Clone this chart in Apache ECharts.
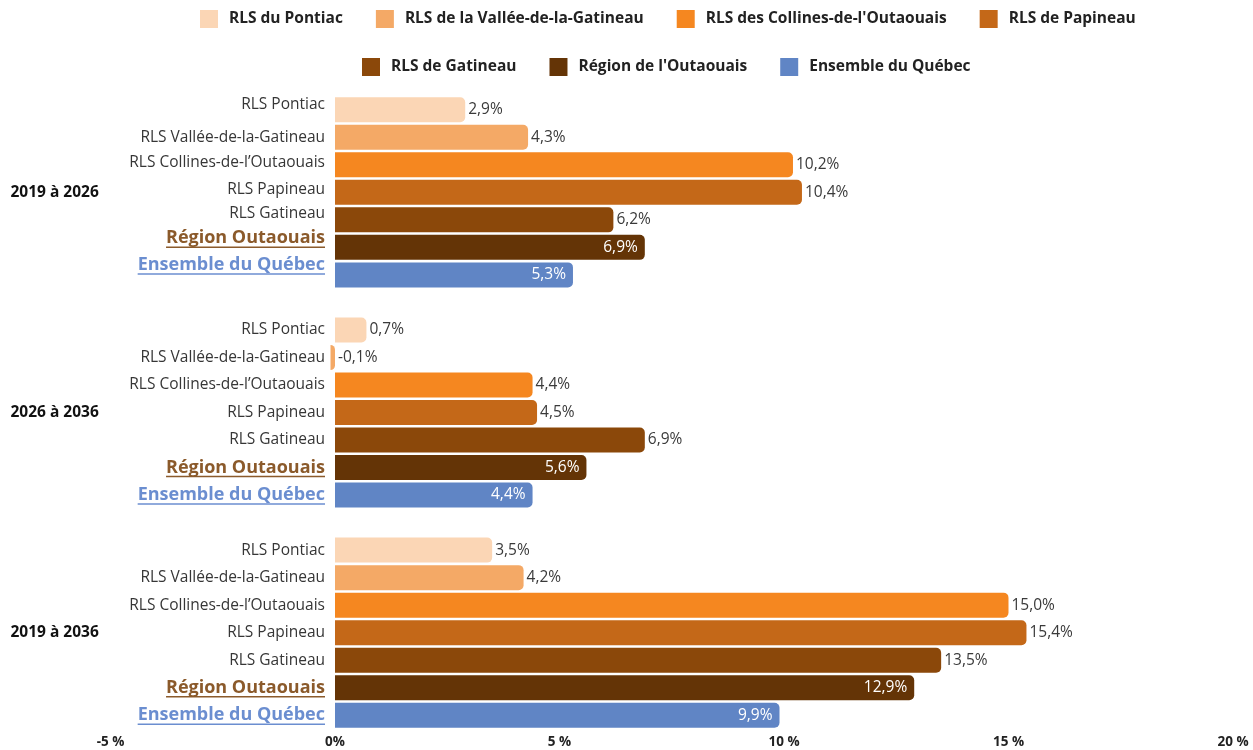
<!DOCTYPE html>
<html><head><meta charset="utf-8">
<script src="https://cdn.jsdelivr.net/npm/echarts@6/dist/echarts.min.js"></script>
<style>html,body{margin:0;padding:0;background:#fff}#c{width:1253px;height:750px}</style>
</head><body><div id="c"></div>
<script>
// ---- data ----
const periods = ['2019 à 2026', '2026 à 2036', '2019 à 2036'];
const rowLabels = ['RLS Pontiac', 'RLS Vallée-de-la-Gatineau', 'RLS Collines-de-l’Outaouais', 'RLS Papineau', 'RLS Gatineau', 'Région Outaouais', 'Ensemble du Québec'];
const seriesNames = ['RLS du Pontiac', 'RLS de la Vallée-de-la-Gatineau', "RLS des Collines-de-l'Outaouais", 'RLS de Papineau', 'RLS de Gatineau', "Région de l'Outaouais", 'Ensemble du Québec'];
const pontiac  = [2.9, 0.7, 3.5];
const vallee   = [4.3, -0.1, 4.2];
const collines = [10.2, 4.4, 15.0];
const papineau = [10.4, 4.5, 15.4];
const gatineau = [6.2, 6.9, 13.5];
const region   = [6.9, 5.6, 12.9];
const quebec   = [5.3, 4.4, 9.9];
const xTickLabels = ['-5 %', '0%', '5 %', '10 %', '15 %', '20 %'];

// ---- styles ----
const colors = ['#fbd6b5', '#f4a966', '#f58720', '#c46818', '#8b480a', '#643406', '#6085c5'];
const labelLiftG1 = [5, 0, 2, 3, 6, 9, 10]; // small upward shift of row labels in first block
const FONT = '"Open Sans", "Noto Sans", sans-serif';
const GRID_LEFT = 110.5, GRID_RIGHT = 20;
const X_MIN = -5, X_MAX = 20;
const BOLD_SIZE = 18;

const allValues = [pontiac, vallee, collines, papineau, gatineau, region, quebec];
const rows = [];
periods.forEach((p, g) => {
  rowLabels.forEach((l, s) => rows.push({g, s}));
  if (g < periods.length - 1) rows.push(null);
});
const fmtPct = v => v.toFixed(1).replace('.', ',') + '%';

const rich = {};
for (let k = 0; k <= 12; k++) {
  rich['n' + k] = {fontSize: 15.5, color: '#363636', fontFamily: FONT, padding: [0, 0, 2 * k, 0]};
  rich['r' + k] = {fontSize: BOLD_SIZE, fontWeight: 'bold', color: '#8b5a2b', fontFamily: FONT, padding: [0, 0, 2 * k, 0]};
  rich['q' + k] = {fontSize: BOLD_SIZE, fontWeight: 'bold', color: '#6b8ed0', fontFamily: FONT, padding: [0, 0, 2 * k, 0]};
}
const liftOf = r => (r && r.g === 0) ? labelLiftG1[r.s] : 0;

const chartWidth = 1253;
const plotW = chartWidth - GRID_LEFT - GRID_RIGHT;
const zeroOffset = plotW * (0 - X_MIN) / (X_MAX - X_MIN); // distance from grid left to value 0
const ROW_LABEL_GAP = 10;

const chart = echarts.init(document.getElementById('c'));
const series = seriesNames.map((name, s) => ({
  type: 'bar', name, stack: 'all', barWidth: 25,
  data: rows.map(r => (r && r.s === s) ? allValues[s][r.g] : '-'),
  itemStyle: {color: colors[s], borderRadius: [0, 5, 5, 0]},
  label: {
    show: true,
    position: s >= 5 ? 'insideRight' : 'right',
    distance: s >= 5 ? 7 : 3,
    color: s >= 5 ? '#ffffff' : '#3a3a3a',
    fontSize: 15.5, fontFamily: FONT,
    formatter: p => fmtPct(p.value)
  }
}));

const legendText = {fontSize: 15.5, fontWeight: 'bold', color: '#222', fontFamily: FONT, padding: [0, 0, 0, 6]};
chart.setOption({
  animation: false,
  textStyle: {fontFamily: FONT},
  legend: [
    {data: seriesNames.slice(0, 4), left: 200, top: 10, itemWidth: 18, itemHeight: 18, itemGap: 33, icon: 'rect', textStyle: legendText, padding: 0},
    {data: seriesNames.slice(4), left: 362, top: 58, itemWidth: 18, itemHeight: 18, itemGap: 33, icon: 'rect', textStyle: legendText, padding: 0}
  ],
  grid: {left: GRID_LEFT, right: GRID_RIGHT, top: 96, bottom: 21, containLabel: false, outerBoundsMode: 'none'},
  xAxis: {
    type: 'value', min: X_MIN, max: X_MAX, interval: 5,
    splitLine: {show: false}, axisLine: {show: false}, axisTick: {show: false},
    axisLabel: {margin: 6, fontSize: 13.5, fontWeight: 'bold', color: '#222', fontFamily: FONT,
      formatter: v => xTickLabels[Math.round((v - X_MIN) / 5)]}
  },
  yAxis: [
    {
      type: 'category', inverse: true, data: rows.map((r, i) => String(i)),
      offset: -zeroOffset,
      axisLine: {show: false, onZero: false}, axisTick: {show: false},
      axisLabel: {
        interval: 0, margin: ROW_LABEL_GAP, rich,
        formatter: (v, i) => {
          const r = rows[i];
          if (!r) return '';
          const pre = r.s === 5 ? 'r' : (r.s === 6 ? 'q' : 'n');
          return '{' + pre + liftOf(r) + '|' + rowLabels[r.s] + '}';
        }
      }
    },
    {
      type: 'category', inverse: true, position: 'left', data: rows.map((r, i) => String(i)),
      axisLine: {show: false, onZero: false}, axisTick: {show: false},
      axisLabel: {
        interval: 0, margin: 100, align: 'left', fontSize: 15.5, fontWeight: 'bold', color: '#111', fontFamily: FONT,
        formatter: (v, i) => { const r = rows[i]; return (r && r.s === 3) ? periods[r.g] : ''; }
      }
    }
  ],
  series
});

// underline for the two highlighted row labels
const ctx = document.createElement('canvas').getContext('2d');
ctx.font = 'bold ' + BOLD_SIZE + 'px ' + FONT;
const zeroX = chart.convertToPixel({xAxisIndex: 0}, 0);
const graphics = [];
rows.forEach((r, i) => {
  if (!r || r.s < 5) return;
  const y = chart.convertToPixel({yAxisIndex: 0}, i) - liftOf(r) + 9;
  const w = ctx.measureText(rowLabels[r.s]).width;
  graphics.push({
    type: 'line', silent: true,
    shape: {x1: zeroX - ROW_LABEL_GAP - w, y1: y, x2: zeroX - ROW_LABEL_GAP, y2: y},
    style: {stroke: r.s === 5 ? '#8b5a2b' : '#6b8ed0', lineWidth: 1.5}
  });
});
chart.setOption({graphic: graphics});
</script>
</body></html>
